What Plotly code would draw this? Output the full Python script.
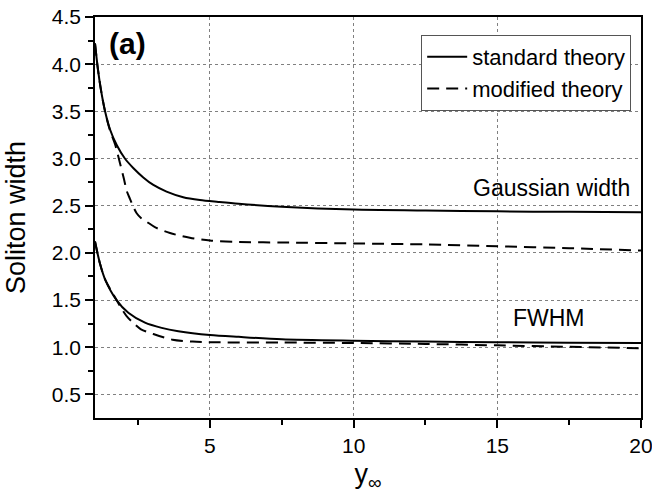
import plotly.graph_objects as go

# ---- data ----
std_gauss_x = [1.0, 1.1, 1.2, 1.35, 1.52, 1.76, 2.04, 2.33, 2.68, 3.03, 3.49, 4.07, 4.65, 5.29, 6.0, 7.5, 10, 12.5, 15, 17.5, 20]
std_gauss_y = [4.22, 3.95, 3.74, 3.50, 3.31, 3.14, 3.0, 2.90, 2.80, 2.72, 2.65, 2.59, 2.56, 2.54, 2.52, 2.49, 2.46, 2.45, 2.44, 2.435, 2.43]

mod_gauss_x = [1.0, 1.1, 1.2, 1.35, 1.52, 1.70, 1.87, 2.01, 2.10, 2.22, 2.33, 2.45, 2.6, 2.8, 3.1, 3.61, 4.3, 5.0, 6.0, 7.5, 10, 12.5, 15, 17.5, 20]
mod_gauss_y = [4.22, 3.95, 3.74, 3.50, 3.30, 3.15, 2.95, 2.78, 2.66, 2.57, 2.49, 2.42, 2.37, 2.33, 2.27, 2.21, 2.16, 2.13, 2.115, 2.11, 2.10, 2.09, 2.07, 2.05, 2.025]

std_fwhm_x = [1.0, 1.17, 1.35, 1.75, 2.16, 2.74, 3.32, 3.9, 5.0, 6.0, 7.5, 10, 12.5, 15, 17.5, 20]
std_fwhm_y = [2.12, 1.89, 1.72, 1.50, 1.365, 1.26, 1.205, 1.17, 1.13, 1.11, 1.085, 1.07, 1.06, 1.053, 1.048, 1.045]

mod_fwhm_x = [1.0, 1.17, 1.35, 1.75, 1.9, 2.1, 2.36, 2.6, 3.03, 3.7, 4.4, 5.0, 7.5, 10, 12.5, 15, 17.5, 20]
mod_fwhm_y = [2.12, 1.89, 1.72, 1.50, 1.42, 1.33, 1.25, 1.19, 1.14, 1.08, 1.06, 1.053, 1.05, 1.045, 1.035, 1.02, 1.005, 0.99]

x_tickvals = [5, 10, 15, 20]
x_minor = [2.5, 7.5, 12.5, 17.5]
y_tickvals = [0.5, 1.0, 1.5, 2.0, 2.5, 3.0, 3.5, 4.0, 4.5]
y_minor = [0.75, 1.25, 1.75, 2.25, 2.75, 3.25, 3.75, 4.25]

FONT = "Liberation Sans, Arial, sans-serif"

fig = go.Figure()
line_solid = dict(color="black", width=2, shape="spline", smoothing=0.8)
line_dash = dict(color="black", width=2, dash="12px,7px", shape="spline", smoothing=0.8)

fig.add_trace(go.Scatter(x=std_gauss_x, y=std_gauss_y, mode="lines", line=line_solid,
                         name="standard theory"))
fig.add_trace(go.Scatter(x=mod_gauss_x, y=mod_gauss_y, mode="lines", line=line_dash,
                         name="modified theory"))
fig.add_trace(go.Scatter(x=std_fwhm_x, y=std_fwhm_y, mode="lines", line=line_solid,
                         name="standard theory", showlegend=False))
fig.add_trace(go.Scatter(x=mod_fwhm_x, y=mod_fwhm_y, mode="lines", line=line_dash,
                         name="modified theory", showlegend=False))

axis_common = dict(
    showline=True, linecolor="black", linewidth=1.5, mirror=True,
    showgrid=True, gridcolor="#808080", gridwidth=1, griddash="dot",
    ticks="outside", tickcolor="black", tickwidth=1.5, ticklen=8,
    tickfont=dict(family=FONT, size=21, color="black"),
    zeroline=False, automargin=False, ticklabeloverflow="allow",
)

fig.update_layout(
    width=652, height=493,
    margin=dict(l=95, r=11, t=17, b=75),
    paper_bgcolor="white", plot_bgcolor="white",
    font=dict(family=FONT, color="black"),
    xaxis=dict(range=[1, 20], tickmode="array", tickvals=x_tickvals,
               minor=dict(tickmode="array", tickvals=x_minor, ticks="outside", ticklen=5,
                          tickcolor="black", tickwidth=1.5, showgrid=False),
               title=dict(text="y<sub>∞</sub>", font=dict(family=FONT, size=27), standoff=10),
               **axis_common),
    yaxis=dict(range=[0.25, 4.5], tickmode="array", tickvals=y_tickvals, tickformat=".1f",
               minor=dict(tickmode="array", tickvals=y_minor, ticks="outside", ticklen=5,
                          tickcolor="black", tickwidth=1.5, showgrid=False),
               title=dict(text="Soliton width", font=dict(family=FONT, size=27), standoff=18),
               **axis_common),
    legend=dict(x=0.982, y=0.955, xanchor="right", yanchor="top",
                bgcolor="white", bordercolor="#555555", borderwidth=1,
                font=dict(family=FONT, size=22, color="black"),
                itemwidth=40, tracegroupgap=0),
    showlegend=True,
)

fig.add_annotation(text="<b>(a)</b>", xref="paper", yref="paper", x=0.06, y=0.935,
                   xanchor="center", yanchor="middle", showarrow=False,
                   font=dict(family=FONT, size=30, color="black"))
fig.add_annotation(text="Gaussian width", xref="paper", yref="paper", x=0.983, y=0.574,
                   xanchor="right", yanchor="middle", showarrow=False,
                   font=dict(family=FONT, size=23, color="black"))
fig.add_annotation(text="FWHM", xref="paper", yref="paper", x=0.832, y=0.249,
                   xanchor="center", yanchor="middle", showarrow=False,
                   font=dict(family=FONT, size=23, color="black"))

fig.write_html("out.html", config={"displayModeBar": False},
               post_script="document.body.style.margin='0';")
